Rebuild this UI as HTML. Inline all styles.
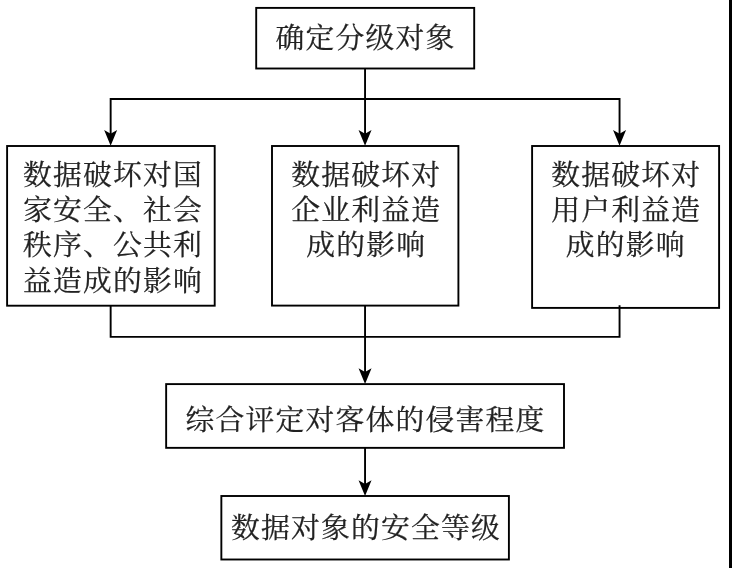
<!DOCTYPE html>
<html lang="zh-CN">
<head>
<meta charset="utf-8">
<title>数据安全分级流程</title>
<style>
html,body{margin:0;padding:0;background:#fff;}
body{width:732px;height:568px;overflow:hidden;position:relative;}
svg{display:block;position:absolute;left:0;top:0;will-change:transform;}
text{font-family:"Liberation Serif","Noto Serif CJK SC",serif;font-size:28.8px;font-weight:400;letter-spacing:1.2px;fill:#222;stroke:#222;stroke-width:0.25px;}
.ln{fill:none;stroke:#000;stroke-width:1.9;stroke-linecap:butt;stroke-linejoin:miter;}
.ah{fill:#000;stroke:none;}
</style>
</head>
<body>
<svg width="732" height="568" viewBox="0 0 732 568">
<rect x="0" y="0" width="732" height="568" fill="#ffffff"/>
<rect x="729" y="0" width="3" height="568" fill="#000"/>

<!-- boxes -->
<rect class="ln" x="256.2" y="7.9" width="218.00" height="60.60"/>
<rect class="ln" x="7.1" y="146.0" width="207.60" height="159.70"/>
<rect class="ln" x="272.0" y="146.0" width="186.40" height="159.60"/>
<rect class="ln" x="532.1" y="146.0" width="187.00" height="161.90"/>
<rect class="ln" x="166.15" y="384.1" width="397.85" height="63.75"/>
<rect class="ln" x="221.35" y="496.0" width="287.55" height="63.50"/>

<!-- connectors -->
<path class="ln" d="M365.05 68.5 V140"/>
<path class="ln" d="M110.65 140 V98.95 H619.55 V140"/>
<path class="ln" d="M110.65 305.7 V336.9 H619.55 V305.2"/>
<path class="ln" d="M365.05 305.6 V378"/>
<path class="ln" d="M365.05 447.8 V490"/>

<!-- arrow heads -->
<polygon class="ah" points="104.15,130.00 110.65,133.80 117.15,130.00 110.65,145.80"/>
<polygon class="ah" points="358.55,130.00 365.05,133.80 371.55,130.00 365.05,145.80"/>
<polygon class="ah" points="613.05,130.00 619.55,133.80 626.05,130.00 619.55,145.80"/>
<polygon class="ah" points="358.55,368.20 365.05,372.00 371.55,368.20 365.05,384.00"/>
<polygon class="ah" points="358.55,480.20 365.05,484.00 371.55,480.20 365.05,496.00"/>

<!-- labels -->
<text x="275.5" y="47.7">确定分级对象</text>
<text x="23" y="184.5">数据破坏对国</text>
<text x="23" y="219.9">家安全、社会</text>
<text x="23" y="255.0">秩序、公共利</text>
<text x="23" y="290.6">益造成的影响</text>
<text x="291.2" y="184.5">数据破坏对</text>
<text x="291.2" y="220.0">企业利益造</text>
<text x="306.2" y="255.2">成的影响</text>
<text x="551.2" y="184.5">数据破坏对</text>
<text x="551.2" y="220.0">用户利益造</text>
<text x="565.8" y="255.2">成的影响</text>
<text x="185.5" y="430.4">综合评定对客体的侵害程度</text>
<text x="231" y="538.3">数据对象的安全等级</text>
</svg>
</body>
</html>
